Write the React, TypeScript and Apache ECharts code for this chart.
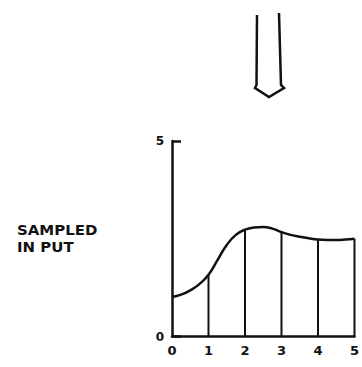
import React, { useEffect, useRef } from "react";
import * as echarts from "echarts";

const curveX = [0, 0.25, 0.5, 0.75, 1, 1.25, 1.5, 1.75, 2, 2.25, 2.5, 2.75, 3, 3.25, 3.5, 3.75, 4, 4.25, 4.5, 4.75, 5];
const curveY = [1.01, 1.07, 1.18, 1.34, 1.58, 1.96, 2.34, 2.6, 2.73, 2.79, 2.8, 2.76, 2.67, 2.6, 2.55, 2.51, 2.48, 2.47, 2.47, 2.48, 2.5];
const sampleX = [1, 2, 3, 4, 5];
const sampleY = [1.58, 2.73, 2.67, 2.48, 2.5];
const xTicks = ["0", "1", "2", "3", "4", "5"];
const yTicks = ["0", "5"];
const labelLines = ["SAMPLED", "IN PUT"];

export default function App() {
  const ref = useRef<HTMLDivElement>(null);
  useEffect(() => {
    if (!ref.current) return;
    const chart = echarts.init(ref.current, null, { renderer: "svg" });
    const ink = "#111";
    chart.setOption({
      animation: false,
      backgroundColor: "#fff",
      grid: { left: 172, right: 2, top: 141, bottom: 30.5, containLabel: false },
      xAxis: {
        type: "value",
        min: 0,
        max: 5,
        interval: 1,
        axisLine: { show: true, lineStyle: { color: ink, width: 2.5 } },
        axisTick: { show: false },
        splitLine: { show: false },
        axisLabel: {
          margin: 7,
          color: ink,
          fontSize: 13,
          fontWeight: "bold",
          fontFamily: "DejaVu Sans",
          formatter: (v: number) => xTicks[Math.round(v)] ?? "",
        },
      },
      yAxis: {
        type: "value",
        min: 0,
        max: 5,
        interval: 5,
        axisLine: { show: true, lineStyle: { color: ink, width: 2.5 } },
        axisTick: { show: true, inside: true, length: 9, lineStyle: { color: ink, width: 2.5 } },
        splitLine: { show: false },
        axisLabel: {
          margin: 8,
          color: ink,
          fontSize: 12,
          fontWeight: "bold",
          fontFamily: "DejaVu Sans",
          formatter: (v: number) => (v === 0 ? yTicks[0] : v === 5 ? yTicks[1] : ""),
        },
      },
      series: [
        {
          type: "line",
          data: curveX.map((x, i) => [x, curveY[i]]),
          smooth: 0.5,
          showSymbol: false,
          lineStyle: { color: ink, width: 2.5 },
          clip: false,
        },
        {
          type: "custom",
          data: sampleX.map((x, i) => [x, sampleY[i]]),
          renderItem: (params: any, api: any) => {
            const top = api.coord([api.value(0), api.value(1)]);
            const bot = api.coord([api.value(0), 0]);
            return {
              type: "line",
              shape: { x1: top[0], y1: top[1], x2: bot[0], y2: bot[1] },
              style: { stroke: ink, lineWidth: 2 },
            };
          },
          clip: false,
        },
      ],
      graphic: [
        {
          type: "polyline",
          shape: {
            points: [
              [257, 15],
              [256.5, 85],
              [255, 88],
              [269, 97],
              [284, 88],
              [281, 85],
              [279, 13],
            ],
          },
          style: { stroke: ink, lineWidth: 2.5, fill: "none" },
        },
        {
          type: "text",
          x: 17,
          y: 230,
          scaleX: 1.07,
          style: {
            text: labelLines[0],
            fill: ink,
            font: "bold 14px 'DejaVu Sans'",
            verticalAlign: "middle",
          },
        },
        {
          type: "text",
          x: 17,
          y: 247,
          scaleX: 1.07,
          style: {
            text: labelLines[1],
            fill: ink,
            font: "bold 14px 'DejaVu Sans'",
            verticalAlign: "middle",
          },
        },
      ],
    });
    return () => chart.dispose();
  }, []);
  return (
    <div
      ref={ref}
      style={{ position: "fixed", left: 0, top: 0, width: 362, height: 367 }}
    />
  );
}
